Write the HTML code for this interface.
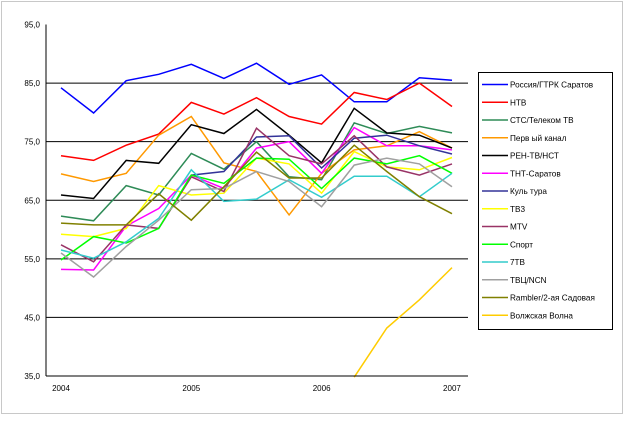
<!DOCTYPE html>
<html><head><meta charset="utf-8"><style>
body{margin:0;background:#fff;font-family:"Liberation Sans",sans-serif}
</style></head><body>
<svg id="chart" width="625" height="418" xmlns="http://www.w3.org/2000/svg" font-family="Liberation Sans, sans-serif">
<rect x="1.5" y="1.5" width="621" height="412" fill="#fff" stroke="#c8c8c8"/>
<g id="grid"></g><g id="series"></g><g id="axes"></g><g id="legend"></g>
</svg>
<script>
const names=["Россия/ГТРК Саратов","НТВ","СТС/Телеком ТВ","Перв ый канал","РЕН-ТВ/НСТ","ТНТ-Саратов","Куль тура","ТВ3","MTV","Спорт","7ТВ","ТВЦ/NCN","Rambler/2-ая Садовая","Волжская Волна"];
const colors=["#0000ff","#ff0000","#2e8b57","#ff9900","#000000","#ff00ff","#333399","#ffff00","#993366","#00ff00","#33cccc","#a0a0a0","#808000","#ffcc00"];
const sRossiya=[84.2,79.9,85.4,86.5,88.2,85.8,88.4,84.8,86.4,81.8,81.8,85.9,85.5];
const sNTV=[72.6,71.8,74.4,76.3,81.7,79.7,82.5,79.3,78.0,83.4,82.2,85.0,81.0];
const sSTS=[62.3,61.5,67.5,65.9,73.0,70.3,75.0,69.0,68.5,78.2,76.4,77.6,76.5];
const sPerviy=[69.5,68.2,69.6,76.1,79.3,71.4,69.9,62.5,69.6,73.6,74.3,76.7,73.9];
const sREN=[65.9,65.3,71.8,71.3,77.9,76.4,80.5,76.1,71.4,80.7,76.5,76.1,73.9];
const sTNT=[53.2,53.1,60.6,63.6,69.3,67.0,73.9,75.0,69.6,77.4,74.3,74.3,73.6];
const sKultura=[null,null,null,null,69.3,69.9,75.8,76.0,70.5,75.6,76.1,74.3,72.9];
const sTV3=[59.2,58.8,60.2,67.5,65.9,66.2,72.2,71.2,66.2,73.3,70.7,70.2,72.3];
const sMTV=[57.4,54.5,60.8,60.2,69.0,66.5,77.3,72.6,71.2,76.0,70.7,69.3,71.2];
const sSport=[54.8,58.8,57.7,60.2,69.3,67.9,72.2,72.0,67.0,72.2,71.2,72.6,69.6];
const s7TV=[56.5,55.1,57.9,61.9,70.2,64.8,65.2,68.5,65.5,69.1,69.1,65.6,69.6];
const sTVC=[56.0,51.9,57.1,61.6,66.8,67.0,69.9,68.2,63.9,71.0,72.2,71.2,67.3];
const sRambler=[61.1,60.8,60.8,66.1,61.6,67.3,73.2,68.8,68.8,74.4,69.9,65.6,62.7];
const sVolga=[null,null,null,null,null,null,null,null,null,34.8,43.2,48.0,53.5];
const allSeries=[sRossiya,sNTV,sSTS,sPerviy,sREN,sTNT,sKultura,sTV3,sMTV,sSport,s7TV,sTVC,sRambler,sVolga];
const yTicks=[35,45,55,65,75,85,95];
const yTickLabels=["35,0","45,0","55,0","65,0","75,0","85,0","95,0"];
const xLabels=["2004","2005","2006","2007"];
const xLabelIdx=[0,4,8,12];

const NS="http://www.w3.org/2000/svg";
const X0=61,STEP=32.58,Y0=376,YMIN=35,YMAX=95,YTOP=24.5;
const xs=i=>X0+i*STEP;
const ys=v=>Y0-(v-YMIN)/(YMAX-YMIN)*(Y0-YTOP);
function mk(tag,attrs,parent){const e=document.createElementNS(NS,tag);for(const k in attrs)e.setAttribute(k,attrs[k]);parent.appendChild(e);return e;}
const grid=document.getElementById('grid'),ser=document.getElementById('series'),ax=document.getElementById('axes'),lg=document.getElementById('legend');
yTicks.forEach((t,i)=>{
  if(t>YMIN&&t<YMAX){const l=mk('line',{x1:46,x2:468,y1:ys(t),y2:ys(t),stroke:'#000','stroke-width':1},grid);
  
  }
  const tx=mk('text',{x:40,y:ys(t)+3,'font-size':8,'text-anchor':'end'},ax);tx.textContent=yTickLabels[i];
  
  
});
const la=mk('line',{x1:46,x2:46,y1:YTOP,y2:Y0,stroke:'#000'},ax);


const lb=mk('line',{x1:46,x2:468,y1:Y0,y2:Y0,stroke:'#000'},ax);


xLabels.forEach((s,i)=>{const t=mk('text',{x:xs(xLabelIdx[i]),y:391,'font-size':8,'text-anchor':'middle'},ax);t.textContent=s;
  
  });
allSeries.forEach((arr,k)=>{
  let d='';arr.forEach((v,i)=>{if(v==null)return;d+=(d?'L':'M')+xs(i).toFixed(1)+' '+ys(v).toFixed(1);});
  const p=mk('path',{d:d,fill:'none',stroke:colors[k],'stroke-width':1.5},ser);
  
  
});
const box=mk('rect',{x:478.5,y:72.5,width:134,height:257,fill:'#fff',stroke:'#000'},lg);


names.forEach((n,k)=>{
  const y=84.5+k*17.75;
  const g=mk('g',{},lg);
  
  
  mk('line',{x1:482,x2:508,y1:y,y2:y,stroke:colors[k],'stroke-width':1.5},g);
  const t=mk('text',{x:510,y:y+3,'font-size':8.2},g);t.textContent=n;
});
</script>
</body></html>
